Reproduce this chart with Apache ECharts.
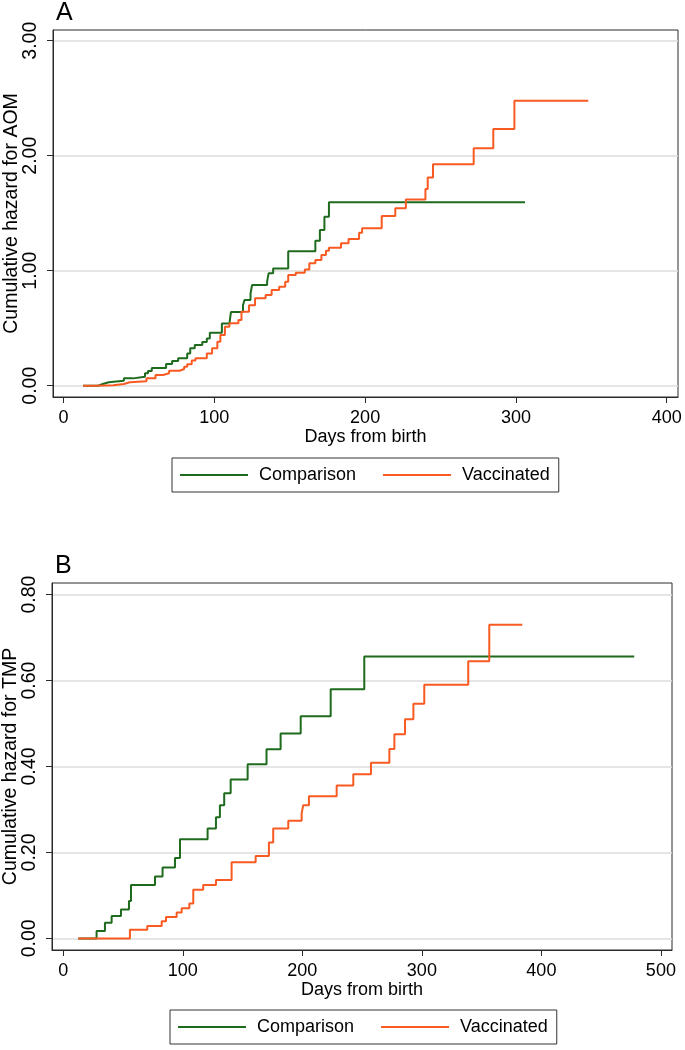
<!DOCTYPE html>
<html>
<head>
<meta charset="utf-8">
<script src="https://cdn.jsdelivr.net/npm/echarts@6/dist/echarts.min.js"></script>
<style>
html,body{margin:0;padding:0;background:#fff;}
#chart{width:685px;height:1050px;}
</style>
</head>
<body>
<div id="chart"></div>
<script>
// ---- Data ----
const seriesNames = ['Comparison', 'Vaccinated'];

// Panel A: AOM
const aomComparisonDays = [13, 23, 26, 30, 40, 46, 54, 56, 58.5, 68, 72, 76, 82, 84, 87, 92, 95, 97, 105, 110, 111, 119, 120, 124, 125, 135, 136, 139, 149, 167, 170, 173, 176, 306];
const aomComparisonHazard = [0, 0.015, 0.03, 0.044, 0.064, 0.078, 0.108, 0.128, 0.155, 0.19, 0.215, 0.238, 0.28, 0.325, 0.354, 0.38, 0.41, 0.46, 0.54, 0.556, 0.64, 0.7, 0.745, 0.8, 0.875, 0.905, 0.977, 1.02, 1.17, 1.26, 1.354, 1.47, 1.595, 1.595];
const aomVaccinatedDays = [13, 21, 33, 40, 44, 55, 61, 66, 70, 77, 80, 82, 85, 87.5, 95, 98.5, 102, 104, 107, 110, 116, 118, 123, 127, 134, 138, 143, 147, 149, 154, 160, 163, 167, 171, 174, 176, 184, 189, 196, 198, 211, 220, 227, 240, 241.5, 245, 272, 285, 299, 348];
const aomVaccinatedHazard = [0, 0.005, 0.015, 0.03, 0.04, 0.064, 0.093, 0.108, 0.13, 0.145, 0.165, 0.186, 0.22, 0.238, 0.28, 0.325, 0.383, 0.44, 0.513, 0.543, 0.571, 0.643, 0.70, 0.76, 0.789, 0.832, 0.86, 0.904, 0.963, 0.983, 1.01, 1.064, 1.093, 1.137, 1.174, 1.2, 1.238, 1.276, 1.33, 1.369, 1.476, 1.543, 1.62, 1.71, 1.81, 1.925, 2.064, 2.232, 2.478, 2.478];

// Panel B: TMP
const tmpComparisonDays = [12.5, 27.8, 34.8, 40.4, 48.2, 54.9, 56.6, 76.7, 83, 93.4, 97.6, 120.7, 127.7, 131, 134.6, 140, 154.2, 170, 181.8, 198.6, 223.7, 251.8, 477.7];
const tmpComparisonHazard = [0, 0.017, 0.0365, 0.052, 0.067, 0.087, 0.124, 0.144, 0.165, 0.187, 0.231, 0.256, 0.282, 0.31, 0.338, 0.37, 0.405, 0.44, 0.477, 0.517, 0.58, 0.656, 0.656];
const tmpVaccinatedDays = [12.5, 55.7, 70.2, 82.3, 85.9, 94.8, 99, 105.4, 108.7, 117, 127.7, 140.8, 160.9, 172, 175.6, 188.2, 199.4, 200.7, 205.5, 228.7, 242.6, 257.4, 272.8, 277, 285.9, 292.9, 302, 338.8, 356.4, 384];
const tmpVaccinatedHazard = [0, 0.02, 0.029, 0.04, 0.05, 0.06, 0.07, 0.081, 0.113, 0.124, 0.136, 0.177, 0.192, 0.223, 0.256, 0.274, 0.291, 0.31, 0.331, 0.356, 0.382, 0.409, 0.441, 0.475, 0.51, 0.546, 0.59, 0.645, 0.73, 0.73];

// Tick labels
const xTicksA = [0, 100, 200, 300, 400];
const yTicksA = [0, 1, 2, 3];
const xTicksB = [0, 100, 200, 300, 400, 500];
const yTicksB = [0, 0.2, 0.4, 0.6, 0.8];

const panelLabels = ['A', 'B'];
const yTitles = ['Cumulative hazard for AOM', 'Cumulative hazard for TMP'];
const xTitle = 'Days from birth';

// ---- Styling ----
const FONT = '"Liberation Sans", Arial, sans-serif';
const GREEN = '#1e6b1e';
const ORANGE = '#f85a22';
const AXIS = '#2a2a2a';

function zip(xs, ys) { return xs.map((x, i) => [x, ys[i]]); }

function xAxisCfg(gi, min, max, ticks) {
  return {
    type: 'value', gridIndex: gi, min: min, max: max,
    name: xTitle, nameLocation: 'middle', nameGap: 31,
    nameTextStyle: { fontFamily: FONT, fontSize: 18, color: '#000' },
    axisLine: { show: true, onZero: false, lineStyle: { color: AXIS, width: 1 } },
    axisTick: { show: true, length: 6, customValues: ticks, lineStyle: { color: AXIS, width: 1 } },
    axisLabel: { customValues: ticks, margin: 12, fontFamily: FONT, fontSize: 18, color: '#000',
                 formatter: v => String(v) },
    splitLine: { show: false }
  };
}
function yAxisCfg(gi, min, max, ticks, title) {
  return {
    type: 'value', gridIndex: gi, min: min, max: max,
    name: title, nameLocation: 'middle', nameGap: 31, nameMoveOverlap: false,
    nameTextStyle: { fontFamily: FONT, fontSize: 19.5, color: '#000' },
    axisLine: { show: true, onZero: false, lineStyle: { color: AXIS, width: 1 } },
    axisTick: { show: true, length: 6, customValues: ticks, lineStyle: { color: AXIS, width: 1 } },
    axisLabel: { customValues: ticks, rotate: 90, margin: 12, fontFamily: FONT, fontSize: 19.5, color: '#000',
                 formatter: v => v.toFixed(2) },
    splitLine: { show: true, lineStyle: { color: '#dcdcdc', width: 1.5 } }
  };
}
function lineSeries(name, xi, yi, data, color) {
  return {
    name: name, type: 'line', step: 'end', xAxisIndex: xi, yAxisIndex: yi,
    data: data, symbol: 'none', showSymbol: false,
    lineStyle: { color: color, width: 2 }, itemStyle: { color: color },
    animation: false, z: 3
  };
}
function legendCfg(top, left) {
  return {
    show: true, top: top, left: left, orient: 'horizontal',
    data: seriesNames, icon: 'rect', itemWidth: 68, itemHeight: 2, itemGap: 27,
    padding: [8, 9, 8, 8],
    borderColor: '#333', borderWidth: 1, backgroundColor: '#fff',
    selectedMode: false,
    textStyle: { fontFamily: FONT, fontSize: 18, color: '#000', padding: [0, 0, 0, 6] }
  };
}

const chart = echarts.init(document.getElementById('chart'), null, { renderer: 'canvas' });
chart.setOption({
  animation: false,
  backgroundColor: '#fff',
  grid: [
    { left: 53, top: 30, width: 625, height: 367, show: true, borderColor: AXIS, borderWidth: 1, backgroundColor: 'transparent', containLabel: false, outerBoundsMode: 'none' },
    { left: 52, top: 583, width: 620, height: 367, show: true, borderColor: AXIS, borderWidth: 1, backgroundColor: 'transparent', containLabel: false, outerBoundsMode: 'none' }
  ],
  title: [
    { text: panelLabels[0], left: 56, top: 1, padding: 0, textStyle: { fontFamily: FONT, fontSize: 25, fontWeight: 'normal', color: '#000' } },
    { text: panelLabels[1], left: 55, top: 554, padding: 0, textStyle: { fontFamily: FONT, fontSize: 25, fontWeight: 'normal', color: '#000' } }
  ],
  legend: [legendCfg(458, 172), legendCfg(1010, 170)],
  xAxis: [xAxisCfg(0, -7, 407.5, xTicksA), xAxisCfg(1, -9.5, 509.3, xTicksB)],
  yAxis: [yAxisCfg(0, -0.098, 3.093, yTicksA, yTitles[0]), yAxisCfg(1, -0.027, 0.827, yTicksB, yTitles[1])],
  series: [
    lineSeries(seriesNames[0], 0, 0, zip(aomComparisonDays, aomComparisonHazard), GREEN),
    lineSeries(seriesNames[1], 0, 0, zip(aomVaccinatedDays, aomVaccinatedHazard), ORANGE),
    lineSeries(seriesNames[0], 1, 1, zip(tmpComparisonDays, tmpComparisonHazard), GREEN),
    lineSeries(seriesNames[1], 1, 1, zip(tmpVaccinatedDays, tmpVaccinatedHazard), ORANGE)
  ]
});
</script>
</body>
</html>
